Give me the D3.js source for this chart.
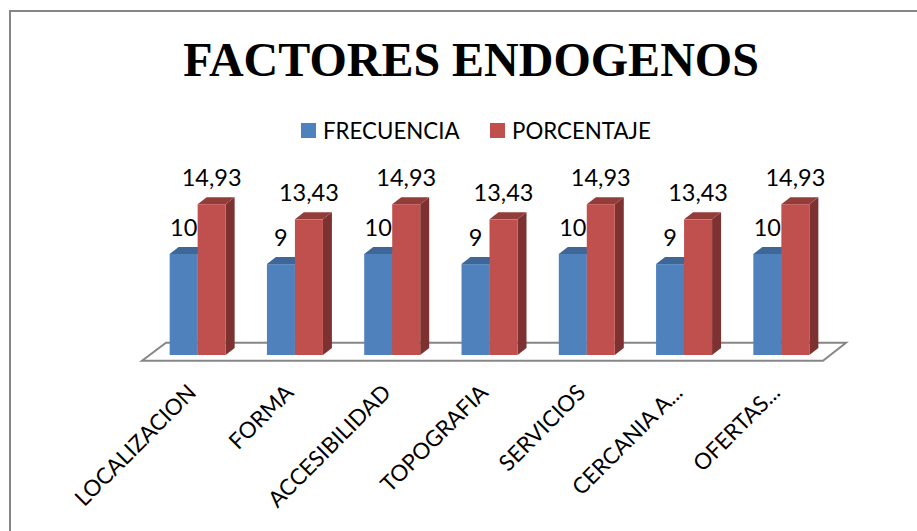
<!DOCTYPE html>
<html>
<head>
<meta charset="utf-8">
<script src="https://cdn.jsdelivr.net/npm/d3@7"></script>
<style>
  html, body { margin: 0; padding: 0; background: #fff; }
  svg { display: block; }
</style>
</head>
<body>
<div id="chart"></div>
<script>
// data
var categories = ["LOCALIZACION", "FORMA", "ACCESIBILIDAD", "TOPOGRAFIA", "SERVICIOS", "CERCANIA A...", "OFERTAS..."];
var frecuencia = [10, 9, 10, 9, 10, 9, 10];
var porcentaje = [14.93, 13.43, 14.93, 13.43, 14.93, 13.43, 14.93];
var seriesNames = ["FRECUENCIA", "PORCENTAJE"];

var width = 917, height = 531;
var baseY = 355, depthX = 9, depthY = 7;
var labelFont = "Lato, Carlito, 'Open Sans', sans-serif";

var svg = d3.select("#chart").append("svg")
    .attr("width", width)
    .attr("height", height);

// outer frame, only top and left are visible in the crop
svg.append("path")
    .attr("d", "M10,531V11H917")
    .attr("fill", "none")
    .attr("stroke", "#868686")
    .attr("stroke-width", 2);

// title
svg.append("text")
    .attr("x", 471)
    .attr("y", 76)
    .attr("text-anchor", "middle")
    .style("font-family", "'Liberation Serif', serif")
    .style("font-weight", "bold")
    .style("font-size", "48px")
    .text("FACTORES ENDOGENOS");

// legend
var legendColors = ["#4f81bd", "#c0504d"];
var legendX = [301, 490];
var legend = svg.selectAll(".legend").data(seriesNames).enter().append("g")
    .attr("class", "legend")
    .attr("transform", function(d, i) { return "translate(" + legendX[i] + ",123)"; });
legend.append("rect")
    .attr("width", 15)
    .attr("height", 15)
    .attr("fill", function(d, i) { return legendColors[i]; });
legend.append("text")
    .attr("x", 22)
    .attr("y", 15.5)
    .style("font-family", labelFont)
    .style("font-size", "22.3px")
    .style("fill", "#000")
    .text(function(d) { return d; });

// scales
var x = d3.scaleBand().domain(categories).range([149, 830]);
var inner = d3.scaleBand().domain([0, 1]).range([0, 56])
var y = d3.scaleLinear().domain([0, 10]).range([baseY, baseY - 101]);

// floor of the 3d plot
svg.append("path")
    .attr("d", "M142,360.7L166,342.7H846L823,360.7Z")
    .attr("fill", "#fff")
    .attr("stroke", "#868686")
    .attr("stroke-width", 2);

var series = [
    {values: frecuencia, front: "#4f81bd", top: "#3e6696", side: "#335480", idx: 0},
    {values: porcentaje, front: "#c0504d", top: "#933d3b", side: "#7d3231", idx: 1}
];

function barLeft(cat, s) {
    return x(cat) + (x.bandwidth() - 56) / 2 + inner(s.idx);
}

function drawBars(s) {
    var g = svg.append("g").selectAll("g").data(categories).enter().append("g");
    var w = inner.bandwidth();

    g.append("path") // side
        .attr("fill", s.side)
        .attr("d", function(d, i) {
            var l = barLeft(d, s) + w, t = y(s.values[i]);
            return "M" + l + "," + t + "l" + depthX + "," + (-depthY) + "V" + (baseY - depthY) + "L" + l + "," + baseY + "Z";
        });
    g.append("path") // top
        .attr("fill", s.top)
        .attr("d", function(d, i) {
            var l = barLeft(d, s), t = y(s.values[i]);
            return "M" + l + "," + t + "l" + depthX + "," + (-depthY) + "h" + w + "l" + (-depthX) + "," + depthY + "Z";
        });
    g.append("rect") // front
        .attr("x", function(d) { return barLeft(d, s); })
        .attr("y", function(d, i) { return y(s.values[i]); })
        .attr("width", w)
        .attr("height", function(d, i) { return baseY - y(s.values[i]); })
        .attr("fill", s.front);
}
series.forEach(drawBars);

// value labels
series.forEach(function(s) {
    svg.append("g").selectAll("text").data(categories).enter().append("text")
        .attr("x", function(d) { return barLeft(d, s) + inner.bandwidth() / 2; })
        .attr("y", function(d, i) { return y(s.values[i]) - 18; })
        .attr("text-anchor", "middle")
        .style("font-family", labelFont)
        .style("font-size", "23.5px")
        .style("fill", "#000")
        .text(function(d, i) { return String(s.values[i]).replace(".", ","); });
});

// category axis, labels rotated 45 degrees
var xAxis = svg.append("g")
    .attr("transform", "translate(0,361)")
    .call(d3.axisBottom(x).tickSize(0));
xAxis.select(".domain").remove();
xAxis.selectAll("text")
    .attr("text-anchor", "end")
    .attr("transform", "translate(0,33) rotate(-45)")
    .attr("x", 0)
    .attr("y", 0)
    .attr("dy", 0)
    .style("font-family", labelFont)
    .style("font-size", "22.3px")
    .style("fill", "#000");
</script>
</body>
</html>
